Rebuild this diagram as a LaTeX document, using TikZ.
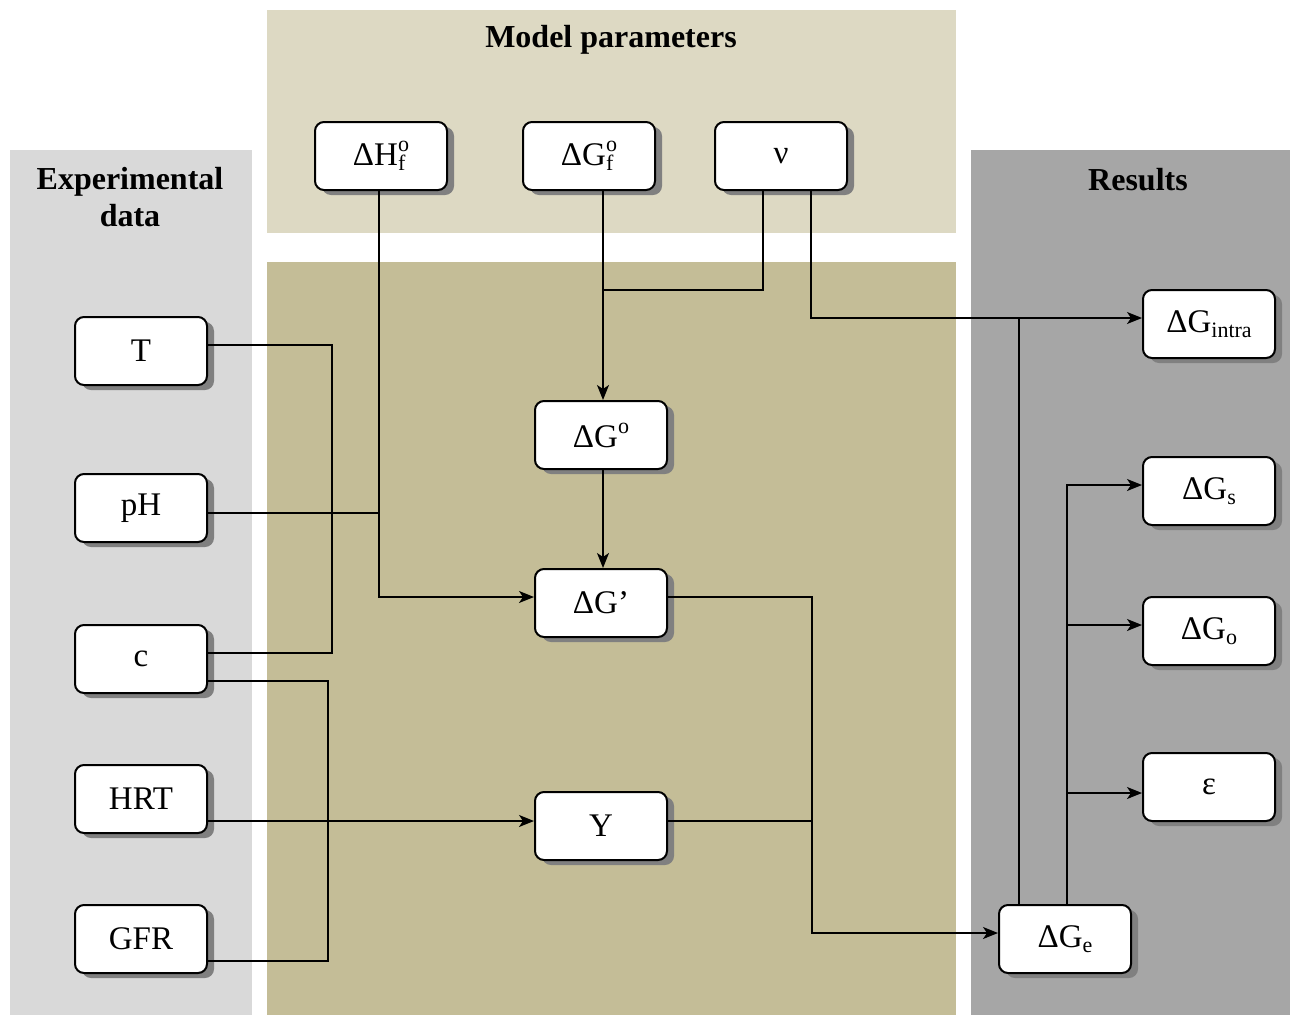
\documentclass[tikz,border=0pt]{standalone}
\usepackage{fontspec}
\setmainfont{Liberation Serif}
\usetikzlibrary{arrows.meta,shadows}

\definecolor{expfill}{HTML}{D9D9D9}
\definecolor{parfill}{HTML}{DDD9C3}
\definecolor{procfill}{HTML}{C4BD97}
\definecolor{resfill}{HTML}{A6A6A6}
\definecolor{shadecol}{HTML}{808080}

% small index letters: lowered subscript and raised superscript
\newcommand\lowidx[1]{\raisebox{-5pt}{\fontsize{22}{22}\selectfont #1}}
\newcommand\highidx[1]{\raisebox{14pt}{\fontsize{22}{22}\selectfont #1}}

\begin{document}
\begin{tikzpicture}[x=1pt,y=-1pt,
  box/.style={draw=black, line width=2pt, fill=white, rounded corners=9pt,
    minimum width=132pt, minimum height=68pt, inner sep=0pt,
    font=\fontsize{33}{38}\selectfont,
    drop shadow={shadow xshift=7pt, shadow yshift=-5pt, fill=shadecol, opacity=1}},
  link/.style={line width=1.5pt},
  arr/.style={link, -{Stealth[length=15pt,width=12pt,inset=4pt]}},
  paneltitle/.style={font=\bfseries\fontsize{32}{37}\selectfont, align=center},
]
\useasboundingbox (0,0) rectangle (1290,1015);

% background panels
\fill[expfill]  (10,150)  rectangle (252,1015);
\fill[parfill]  (267,10)  rectangle (956,233);
\fill[procfill] (267,262) rectangle (956,1015);
\fill[resfill]  (971,150) rectangle (1290,1015);

% panel titles
\node[paneltitle] (tpar) at (611,40)  {Model parameters};
\node[paneltitle] (texp) at (130,197) {Experimental\\data};
\node[paneltitle] (tres) at (1138,180) {Results};

% model parameters
\node[box] (dHf) at (381,156) {ΔH\rlap{\lowidx{f}}\highidx{o}};
\node[box] (dGf) at (589,156) {ΔG\rlap{\lowidx{f}}\highidx{o}};
\node[box] (nu)  at (781,156) {ν};

% experimental data
\node[box] (T)   at (141,351) {T};
\node[box] (pH)  at (141,508) {pH};
\node[box] (c)   at (141,659) {c};
\node[box] (HRT) at (141,799) {HRT};
\node[box] (GFR) at (141,939) {GFR};

% intermediate quantities
\node[box] (dG0) at (601,435) {ΔG\highidx{o}};
\node[box] (dGp) at (601,603) {ΔG’};
\node[box] (Y)   at (601,826) {Y};

% results
\node[box] (dGi) at (1209,324) {ΔG\lowidx{intra}};
\node[box] (dGs) at (1209,491) {ΔG\lowidx{s}};
\node[box] (dGo) at (1209,631) {ΔG\lowidx{o}};
\node[box] (eps) at (1209,787) {ε};
\node[box] (dGe) at (1065,939) {ΔG\lowidx{e}};

% helper points on the boxes
\coordinate (hf) at ([xshift=-2pt]dHf.south);
\coordinate (gf) at ([xshift=14pt]dGf.south);
\coordinate (gi) at ([yshift=6pt]dGi.west);
\coordinate (e1) at ([xshift=-46pt]dGe.north);
\coordinate (e2) at ([xshift=2pt]dGe.north);

% enthalpy, pH, T and c feed the corrected Gibbs energy
\draw[arr] (hf) |- ([yshift=6pt]dGp.west);
\draw[link] ([yshift=-5pt]pH.east) coordinate (ph1) -- (ph1 -| hf);
\draw[link] ([yshift=6pt]T.east) -- ++(124,0) |- ([yshift=6pt]c.east);

% c, HRT and GFR feed the yield
\draw[link] ([yshift=-22pt]c.east) -- ++(120,0) |- ([yshift=-22pt]GFR.east);
\draw[arr] ([yshift=-22pt]HRT.east) coordinate (hr1) -- (hr1 -| Y.west);

% standard Gibbs energy
\draw[arr] (gf) -- (gf |- dG0.north);
\draw[link] ([xshift=-18pt]nu.south) -- ++(0,99) coordinate (nj) -- (nj -| gf);
\draw[arr] ([xshift=2pt]dG0.south) -- ([xshift=2pt]dGp.north);

% stoichiometry to the intracellular term
\draw[arr] ([xshift=30pt]nu.south) |- (gi);

% combination into the energy balance
\draw[arr] ([yshift=6pt]dGp.east) -- ++(144,0) |- ([yshift=6pt]dGe.west);
\draw[link] ([yshift=5pt]Y.east) -- ++(144,0);

% outputs from the energy balance
\draw[link] (e1) -- (e1 |- gi);
\draw[arr] (e2) |- ([yshift=6pt]dGs.west);
\draw[arr] (e2 |- 0,625) -- ([yshift=6pt]dGo.west);
\draw[arr] (e2 |- 0,793) -- ([yshift=-6pt]eps.west);
\end{tikzpicture}
\end{document}
